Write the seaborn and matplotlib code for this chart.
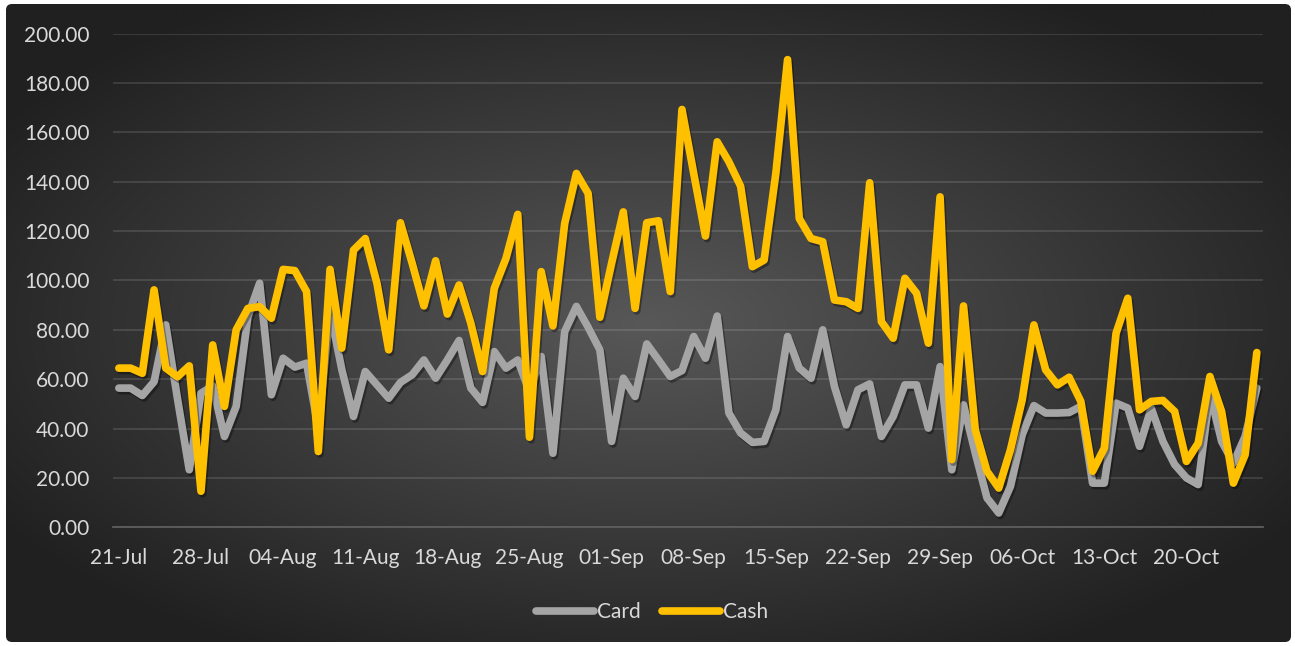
import numpy as np
import pandas as pd
import matplotlib
matplotlib.use("Agg")
import matplotlib.pyplot as plt
import matplotlib.patheffects as pe
from matplotlib.lines import Line2D
from matplotlib.patches import FancyBboxPatch
import seaborn as sns

# ---- data -------------------------------------------------------------
dates = pd.date_range("2019-07-21", "2019-10-26", freq="D")

card = [56.4, 56.4, 53.4, 59.0, 82.0, 52.0, 23.3, 54.3, 57.3, 36.8,
        49.0, 85.4, 98.9, 53.7, 68.5, 64.9, 66.5, 40.0, 88.0, 64.0,
        44.9, 63.1, 57.7, 52.3, 58.7, 61.8, 67.8, 60.4, 67.8, 75.7,
        56.4, 50.6, 71.2, 64.5, 67.8, 55.0, 69.2, 30.0, 79.3, 89.5,
        81.1, 71.9, 34.8, 60.4, 53.0, 74.3, 67.8, 61.1, 63.5, 77.3,
        68.5, 85.6, 46.3, 38.2, 34.4, 34.8, 47.6, 77.3, 64.5, 60.4,
        80.0, 57.0, 41.5, 55.7, 58.1, 36.8, 44.9, 57.7, 57.7, 40.2,
        65.1, 23.3, 49.6, 30.1, 11.9, 5.8, 16.6, 37.5, 49.3, 46.3,
        46.3, 46.5, 49.0, 17.9, 17.9, 50.3, 48.3, 32.8, 48.3, 34.8,
        25.4, 20.0, 17.3, 54.3, 34.8, 26.0, 36.8, 56.4]

cash = [64.5, 64.5, 62.4, 96.2, 64.5, 61.0, 65.4, 14.6, 73.9, 49.0,
        80.0, 88.7, 89.4, 84.7, 104.5, 104.0, 95.5, 30.7, 104.5, 72.6,
        112.3, 117.0, 98.9, 71.9, 123.4, 107.0, 89.7, 108.0, 86.4, 98.2,
        82.7, 63.1, 96.8, 109.0, 126.8, 36.5, 103.6, 81.6, 123.1, 143.4,
        135.3, 85.1, 107.0, 127.8, 88.7, 123.4, 124.2, 95.5, 169.3, 143.4,
        118.0, 156.2, 148.1, 138.2, 105.6, 108.3, 143.4, 189.5, 125.1, 117.0,
        115.7, 92.1, 91.4, 88.7, 139.6, 83.3, 76.6, 100.9, 94.8, 74.6,
        133.9, 27.4, 89.7, 39.5, 22.7, 15.9, 31.4, 51.7, 82.0, 63.8,
        57.7, 60.8, 51.0, 22.7, 32.1, 78.6, 92.8, 47.6, 51.0, 51.4,
        46.9, 26.7, 34.1, 61.1, 46.9, 17.9, 29.4, 70.8]

series_names = ["Card", "Cash"]
series_colors = {"Card": "#A5A5A5", "Cash": "#FFC000"}

week_labels = ["21-Jul", "28-Jul", "04-Aug", "11-Aug", "18-Aug", "25-Aug",
               "01-Sep", "08-Sep", "15-Sep", "22-Sep", "29-Sep", "06-Oct",
               "13-Oct", "20-Oct"]

y_ticks = [0, 20, 40, 60, 80, 100, 120, 140, 160, 180, 200]

# ---- long-form table --------------------------------------------------
day = np.arange(len(dates))
df = pd.concat([
    pd.DataFrame({"day": day, "value": card, "series": "Card"}),
    pd.DataFrame({"day": day, "value": cash, "series": "Cash"}),
], ignore_index=True)

# ---- figure -----------------------------------------------------------
sns.set_theme(style="white")
plt.rcParams["font.family"] = ["Lato", "DejaVu Sans"]
text_color = "#D9D9D9"
font_size = 15

W, H = 1295, 646
fig = plt.figure(figsize=(W / 100, H / 100), dpi=100, facecolor="white")

# dark panel with a radial gradient behind the chart
bg = fig.add_axes([0, 0, 1, 1], zorder=-5)
bg.set_xlim(0, W)
bg.set_ylim(H, 0)
bg.axis("off")
px0, px1, py0, py1 = 6, 1291, 4, 642
gx, gy = np.meshgrid(np.linspace(-1, 1, 600), np.linspace(-1, 1, 300))
t = np.clip(np.sqrt(gx ** 2 + gy ** 2) / 1.2, 0, 1)
inner, outer = 0x58 / 255, 0x20 / 255
shade = inner * (1 - t) + outer * t
rgb = np.dstack([shade, shade, shade])
img = bg.imshow(rgb, extent=[px0, px1, py1, py0], aspect="auto",
                interpolation="bilinear", zorder=0)
clip = FancyBboxPatch((px0, py0), px1 - px0, py1 - py0,
                      boxstyle="round,pad=0,rounding_size=6",
                      transform=bg.transData, facecolor="none", edgecolor="none")
bg.add_patch(clip)
img.set_clip_path(clip)

# plotting area
ax = fig.add_axes([113 / W, 1 - 527.3 / H, (1262.7 - 113) / W, (527.3 - 33.7) / H])
ax.set_facecolor("none")

sns.lineplot(data=df, x="day", y="value", hue="series", hue_order=series_names,
             palette=series_colors, linewidth=5.5, legend=False, ax=ax,
             sort=False)

shadow = [pe.SimpleLineShadow(offset=(1.2, -1.8), shadow_color="black", alpha=0.35),
          pe.Normal()]
for ln in ax.get_lines():
    ln.set_solid_capstyle("round")
    ln.set_solid_joinstyle("round")
    ln.set_path_effects(shadow)

ax.set_xlim(-0.5, len(dates) - 0.5)
ax.set_ylim(0, 200)
ax.set_xlabel("")
ax.set_ylabel("")

# gridlines
ax.set_yticks(y_ticks)
ax.set_yticklabels([f"{v:.2f}" for v in y_ticks])
ax.grid(axis="y", color="#FFFFFF", alpha=0.13, linewidth=1.3)
ax.grid(axis="x", visible=False)

# week boundary ticks, labels centred on the first day of each week
label_pos = np.arange(len(week_labels)) * 7
ax.set_xticks(np.arange(len(week_labels) + 1) * 7 - 0.5)
ax.set_xticklabels([])
ax.set_xticks(label_pos, minor=True)
ax.set_xticklabels(week_labels, minor=True)
ax.tick_params(axis="x", which="major", length=6, width=1.3, color="#5E5E5E",
               direction="out")
ax.tick_params(axis="x", which="minor", length=0, pad=15,
               labelsize=font_size, labelcolor=text_color)
ax.tick_params(axis="y", length=0, pad=17, labelsize=font_size, labelcolor=text_color)

for side in ["top", "right", "left"]:
    ax.spines[side].set_visible(False)
ax.spines["bottom"].set_color("#5E5E5E")
ax.spines["bottom"].set_linewidth(1.3)
ax.set_axisbelow(True)

# legend below the plot
handles = [Line2D([], [], color=series_colors[n], linewidth=5.5,
                  solid_capstyle="round") for n in series_names]
leg = fig.legend(handles, series_names, loc="center",
                 bbox_to_anchor=(652 / W, 1 - 612 / H), ncol=2, frameon=False,
                 fontsize=font_size, handlelength=2.8, handletextpad=0.15,
                 columnspacing=1.0)
for txt in leg.get_texts():
    txt.set_color(text_color)

fig.savefig("out.png", dpi=100, facecolor="white")
